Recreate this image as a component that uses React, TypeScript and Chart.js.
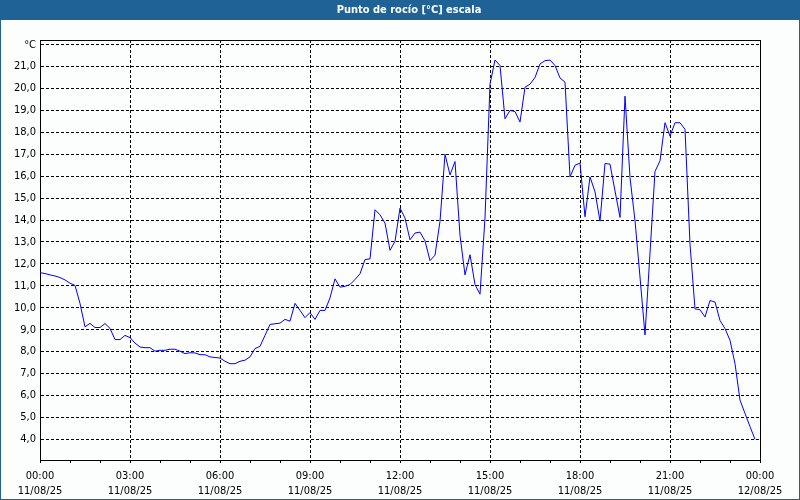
import { useEffect, useRef } from 'react';
import { Chart, registerables } from 'chart.js';

Chart.register(...registerables);

const chartTitle = 'Punto de rocío [°C] escala';
const unitLabel = '°C';

// 10-minute readings from 00:00 11/08/25
const startHour = 0;
const stepMinutes = 10;
const dewPoint = [
  11.6, 11.56, 11.5, 11.45, 11.38, 11.27, 11.12, 11.02, 10.2, 9.13,
  9.29, 9.1, 9.1, 9.28, 9.06, 8.55, 8.55, 8.74, 8.64, 8.39,
  8.21, 8.18, 8.18, 8.02, 8.06, 8.06, 8.11, 8.11, 8.02, 7.91,
  7.95, 7.94, 7.86, 7.86, 7.76, 7.73, 7.71, 7.56, 7.45, 7.45,
  7.56, 7.61, 7.76, 8.14, 8.24, 8.74, 9.24, 9.27, 9.3, 9.47,
  9.39, 10.2, 9.88, 9.55, 9.78, 9.47, 9.88, 9.88, 10.45, 11.32,
  10.94, 10.98, 11.06, 11.29, 11.55, 12.2, 12.23, 14.47, 14.24, 13.86,
  12.62, 13.03, 14.55, 14.09, 13.1, 13.41, 13.45, 13.05, 12.15, 12.4,
  13.94, 17.0, 16.06, 16.67, 13.3, 11.5, 12.42, 11.06, 10.62, 14.1,
  20.2, 21.3, 21.05, 18.62, 19.0, 18.95, 18.47, 20.06, 20.2, 20.5,
  21.12, 21.27, 21.3, 21.05, 20.48, 20.29, 15.97, 16.5, 16.6, 14.15,
  15.97, 15.29, 13.95, 16.58, 16.55, 15.33, 14.12, 19.65, 15.94, 13.97,
  11.4, 8.76, 12.5, 16.22, 16.7, 18.44, 17.83, 18.44, 18.44, 18.14,
  12.9, 9.95, 9.91, 9.58, 10.33, 10.26, 9.42, 9.05, 8.52, 7.45,
  5.79, 5.18, 4.58, 4.0,
];

const yMin = 3.057;
const yMax = 22.213;
const yTickValues = [4, 5, 6, 7, 8, 9, 10, 11, 12, 13, 14, 15, 16, 17, 18, 19, 20, 21, 22];
const xMinorHours = [0, 1, 2, 3, 4, 5, 6, 7, 8, 9, 10, 11, 12, 13, 14, 15, 16, 17, 18, 19, 20, 21, 22, 23, 24];
const xTickHours = [0, 3, 6, 9, 12, 15, 18, 21, 24];
const xTimeLabels = ['00:00', '03:00', '06:00', '09:00', '12:00', '15:00', '18:00', '21:00', '00:00'];
const xDateLabels = ['11/08/25', '11/08/25', '11/08/25', '11/08/25', '11/08/25', '11/08/25', '11/08/25', '11/08/25', '12/08/25'];

const FONT = "'DejaVu Sans Condensed', 'Liberation Sans', sans-serif";
const BLUE_FRAME = '#1f6396';

export default function App() {
  const canvasRef = useRef<HTMLCanvasElement | null>(null);

  useEffect(() => {
    const canvas = canvasRef.current;
    if (!canvas) return;

    const framePlugin = {
      id: 'framePlugin',
      beforeDraw(chart: any) {
        const { ctx, width, height } = chart;
        ctx.save();
        ctx.fillStyle = '#fcfdfd';
        ctx.fillRect(0, 0, width, height);
        ctx.fillStyle = BLUE_FRAME;
        ctx.fillRect(0, 0, width, 20);
        ctx.strokeStyle = BLUE_FRAME;
        ctx.lineWidth = 1;
        ctx.strokeRect(0.5, 0.5, width - 1, height - 1);
        ctx.fillStyle = '#ffffff';
        ctx.font = `bold 11px ${FONT}`;
        ctx.textAlign = 'center';
        ctx.textBaseline = 'middle';
        ctx.fillText(chartTitle, 409, 10.5);
        ctx.restore();
      },
      afterDraw(chart: any) {
        const { ctx, chartArea } = chart;
        ctx.save();
        ctx.strokeStyle = '#000';
        ctx.lineWidth = 1;
        ctx.beginPath();
        ctx.moveTo(Math.round(chartArea.left), Math.round(chartArea.top) + 0.5);
        ctx.lineTo(Math.round(chartArea.right) + 0.5, Math.round(chartArea.top) + 0.5);
        ctx.lineTo(Math.round(chartArea.right) + 0.5, Math.round(chartArea.bottom));
        ctx.stroke();
        ctx.restore();
      },
    };

    const chart = new Chart(canvas, {
      type: 'line',
      data: {
        datasets: [
          {
            data: dewPoint.map((v, i) => ({ x: startHour + (i * stepMinutes) / 60, y: v })),
            borderColor: '#0000ff',
            borderWidth: 1,
            pointRadius: 0,
            tension: 0,
            fill: false,
          },
        ],
      },
      options: {
        animation: false,
        responsive: false,
        maintainAspectRatio: false,
        devicePixelRatio: 1,
        layout: { padding: { top: 40, right: 40, left: 0, bottom: 0 } },
        plugins: {
          legend: { display: false },
          title: { display: false },
          tooltip: { enabled: false },
        },
        scales: {
          x: {
            type: 'linear',
            min: 0,
            max: 24,
            afterBuildTicks: (s: any) => {
              s.ticks = xMinorHours.map((v) => ({ value: v }));
            },
            afterFit: (s: any) => {
              s.height = 40;
              s.paddingLeft = 0;
              s.paddingRight = 0;
            },
            ticks: {
              autoSkip: false,
              maxRotation: 0,
              minRotation: 0,
              padding: 5,
              color: '#000',
              font: { family: FONT, size: 11, lineHeight: 1.4 },
              callback: (v: any) => {
                const idx = xTickHours.indexOf(Number(v));
                return idx >= 0 ? [xTimeLabels[idx], xDateLabels[idx]] : '';
              },
            },
            grid: {
              color: (ctx: any) =>
                ctx.tick && xTickHours.includes(ctx.tick.value) ? '#000' : 'rgba(0,0,0,0)',
              tickColor: '#000',
              tickLength: 3,
              drawTicks: true,
              lineWidth: 1,
            },
            border: { display: true, color: '#000', width: 1, dash: [3, 2] },
          },
          y: {
            type: 'linear',
            min: yMin,
            max: yMax,
            afterBuildTicks: (s: any) => {
              s.ticks = yTickValues.map((v) => ({ value: v }));
            },
            afterFit: (s: any) => {
              s.width = 40;
              s.paddingTop = 0;
              s.paddingBottom = 0;
            },
            ticks: {
              padding: 4,
              color: '#000',
              font: { family: FONT, size: 11 },
              callback: (v: any) =>
                Number(v) === yTickValues[yTickValues.length - 1]
                  ? unitLabel
                  : Number(v).toFixed(1).replace('.', ','),
            },
            grid: { color: '#000', drawTicks: false, lineWidth: 1 },
            border: { display: true, color: '#000', width: 1, dash: [3, 2] },
          },
        },
      },
      plugins: [framePlugin],
    } as any);

    return () => chart.destroy();
  }, []);

  return (
    <div style={{ position: 'fixed', left: 0, top: 0, width: 800, height: 500 }}>
      <canvas ref={canvasRef} width={800} height={500} style={{ display: 'block' }} />
    </div>
  );
}
